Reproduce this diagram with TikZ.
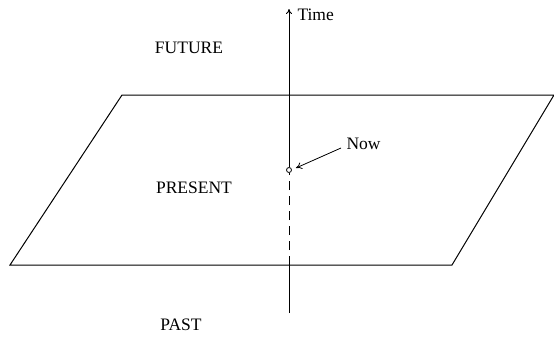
\documentclass[tikz,border=0pt]{standalone}
\usepackage{fontspec}
\setmainfont{Liberation Serif}
\usetikzlibrary{arrows.meta}

\begin{document}
\begin{tikzpicture}[x=1pt,y=-1pt,line width=1pt,
  lbl/.style={inner sep=1pt,font=\fontsize{17.5}{20}\selectfont}]
\useasboundingbox (0,0) rectangle (554,341);
% the plane of the present
\coordinate (sw) at (10,265);
\coordinate (se) at (452,265);
\coordinate (ne) at (554,95);
\coordinate (nw) at (122,95);
\draw (sw)--(se)--(ne)--(nw)--cycle;
% time axis
\coordinate (tbot) at (289,313);
\coordinate (tcut) at (289,265);
\coordinate (ttop) at (289,9);
\node[circle,draw,inner sep=0pt,minimum size=5pt,line width=0.8pt] (now) at (289,170) {};
\draw (tbot)--(tcut);
\draw[dash pattern=on 9pt off 6pt] (tcut)--(now.south);
\draw[-{To[length=5pt,width=6pt]}] (now.north)--(ttop);
\node[lbl,anchor=west] (time) at (296,15) {Time};
\node[lbl,anchor=west] (nowlbl) at (345,144) {Now};
\draw[-{To[length=6pt,width=7pt]},line width=0.8pt] ([shift={(-4,4)}]nowlbl.west)--([shift={(4,-2)}]now.east);
\node[lbl] (future) at (189,48) {FUTURE};
\node[lbl] (present) at (194,188) {PRESENT};
\node[lbl] (past) at (181,325) {PAST};
\end{tikzpicture}
\end{document}
